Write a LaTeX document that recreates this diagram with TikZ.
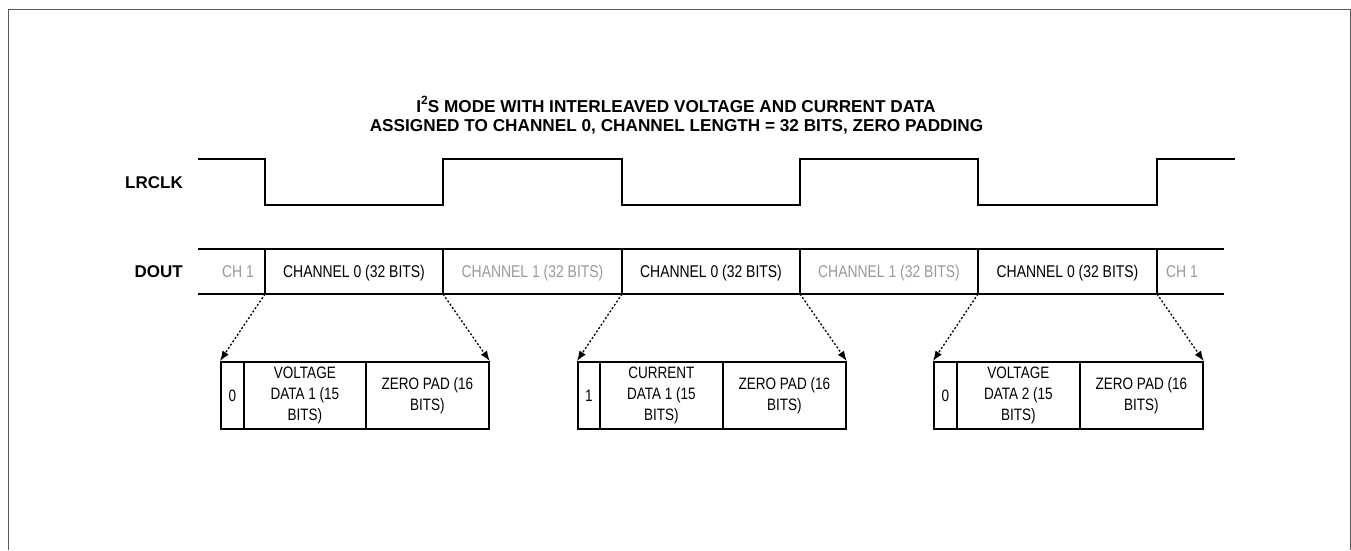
\documentclass[tikz,border=0pt]{standalone}
\usepackage{fontspec}
\setmainfont{Liberation Sans}
\newfontfamily\narrowfont[FakeStretch=0.82]{Liberation Sans}
\usetikzlibrary{arrows.meta}
\definecolor{chgray}{HTML}{999999}
\tikzset{
  frameline/.style={draw=black!65, line width=1pt},
  wave/.style={draw=black, line width=1.4pt},
  lbl/.style={font=\fontsize{17}{18}\selectfont\bfseries, inner sep=0pt},
  ttl/.style={font=\fontsize{17.2}{18}\selectfont\bfseries, inner sep=0pt, anchor=base},
  chtext/.style={font=\narrowfont\fontsize{17}{18}\selectfont, inner sep=0pt, anchor=base},
  chgraytext/.style={chtext, text=chgray},
  cell/.style={draw=black, line width=1.7pt, anchor=north west, minimum height=67pt, inner sep=0pt,
    align=center, font=\narrowfont\fontsize{16.5}{21}\selectfont},
  zoomarrow/.style={draw=black, line width=1.3pt, dash pattern=on 2pt off 2pt,
    -{Latex[length=10pt,width=7.5pt]}},
}
\begin{document}
\begin{tikzpicture}[x=1pt,y=-1pt]
\useasboundingbox (0,0) rectangle (1351,550);
% frame
\draw[frameline] (8,550) -- (8,9) -- (1350,9) -- (1350,550);
% title
\node[ttl] (t1) at (676,112.5) {I\raisebox{0.45em}{\fontsize{12}{12}\selectfont 2}S MODE WITH INTERLEAVED VOLTAGE AND CURRENT DATA};
\node[ttl] (t2) at (676.5,131) {ASSIGNED TO CHANNEL 0, CHANNEL LENGTH = 32 BITS, ZERO PADDING};
% labels
\node[lbl, anchor=base east] (lrclk) at (183,188.5) {LRCLK};
\node[lbl, anchor=base east] (dout) at (183,277.5) {DOUT};
% LRCLK waveform
\draw[wave] (198,159) -- (265,159) -- (265,205) -- (443,205) -- (443,159) -- (622,159) -- (622,205)
  -- (800,205) -- (800,159) -- (978,159) -- (978,205) -- (1157,205) -- (1157,159) -- (1235,159);
% DOUT bus
\draw[wave] (198,249) -- (1224,249);
\draw[wave] (198,294) -- (1224,294);
\foreach \x/\n in {265/a,443/b,622/c,800/d,978/e,1157/f}{
  \draw[wave] (\x,249) -- (\x,294);
  \coordinate (d\n) at (\x,294);
}
\node[chgraytext] (ch1l) at (238,277.5) {CH 1};
\node[chtext] (c0a) at (354,277.5) {CHANNEL 0 (32 BITS)};
\node[chgraytext] (c1a) at (532.5,277.5) {CHANNEL 1 (32 BITS)};
\node[chtext] (c0b) at (711,277.5) {CHANNEL 0 (32 BITS)};
\node[chgraytext] (c1b) at (889,277.5) {CHANNEL 1 (32 BITS)};
\node[chtext] (c0c) at (1067.5,277.5) {CHANNEL 0 (32 BITS)};
\node[chgraytext] (ch1r) at (1182,277.5) {CH 1};
% expanded boxes
\node[cell, minimum width=23pt] (b1a) at (220,361) {0};
\node[cell, minimum width=122pt] (b1b) at (243,361) {VOLTAGE\\DATA 1 (15\\BITS)};
\node[cell, minimum width=123pt] (b1c) at (365,361) {ZERO PAD (16\\BITS)};
\node[cell, minimum width=22pt] (b2a) at (577,361) {1};
\node[cell, minimum width=123pt] (b2b) at (599,361) {CURRENT\\DATA 1 (15\\BITS)};
\node[cell, minimum width=123pt] (b2c) at (722,361) {ZERO PAD (16\\BITS)};
\node[cell, minimum width=23pt] (b3a) at (933,361) {0};
\node[cell, minimum width=123pt] (b3b) at (956,361) {VOLTAGE\\DATA 2 (15\\BITS)};
\node[cell, minimum width=123pt] (b3c) at (1079,361) {ZERO PAD (16\\BITS)};
% arrows
\draw[zoomarrow] (da) -- (b1a.north west);
\draw[zoomarrow] (db) -- (b1c.north east);
\draw[zoomarrow] (dc) -- (b2a.north west);
\draw[zoomarrow] (dd) -- (b2c.north east);
\draw[zoomarrow] (de) -- (b3a.north west);
\draw[zoomarrow] (df) -- (b3c.north east);
\end{tikzpicture}
\end{document}
